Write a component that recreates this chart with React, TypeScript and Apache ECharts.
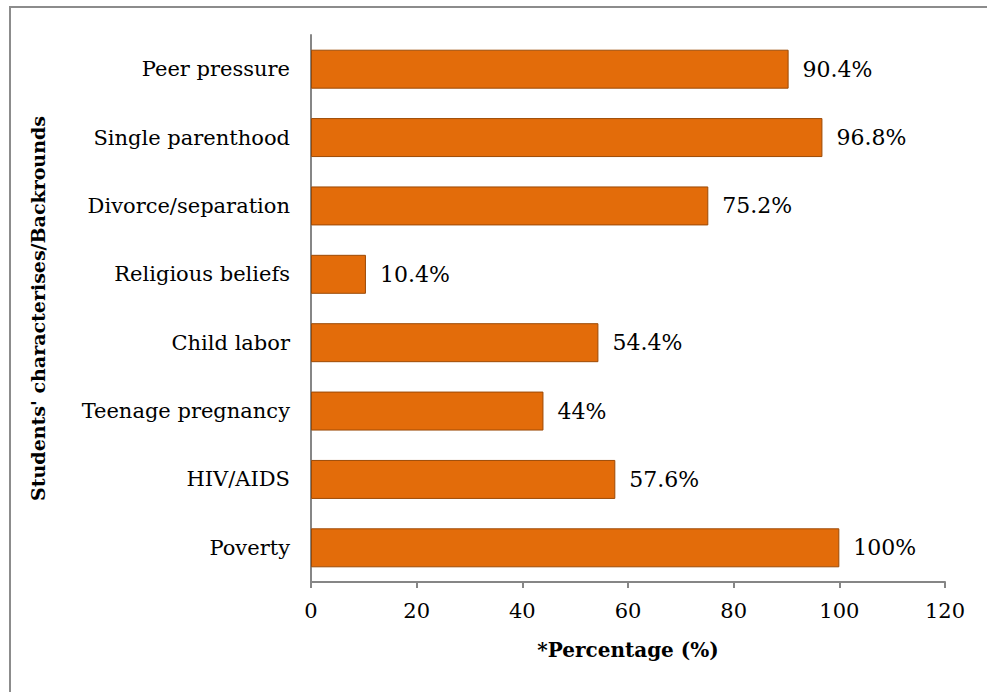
import React, { useEffect, useRef } from "react";
import * as echarts from "echarts";

const categories = [
  "Peer pressure",
  "Single parenthood",
  "Divorce/separation",
  "Religious beliefs",
  "Child labor",
  "Teenage pregnancy",
  "HIV/AIDS",
  "Poverty",
];
const values = [90.4, 96.8, 75.2, 10.4, 54.4, 44, 57.6, 100];
const xTicks = [0, 20, 40, 60, 80, 100, 120];

const SERIF = "'DejaVu Serif', 'Liberation Serif', serif";

export default function App() {
  const ref = useRef<HTMLDivElement>(null);
  useEffect(() => {
    document.body.style.margin = "0";
    const chart = echarts.init(ref.current!, null, { renderer: "svg" });
    chart.setOption({
      animation: false,
      backgroundColor: "#ffffff",
      graphic: [
        {
          type: "rect",
          shape: { x: 10, y: 7, width: 1100, height: 800 },
          style: { fill: "none", stroke: "#8c8c8c", lineWidth: 2 },
          z: 0,
        },
      ],
      grid: { left: 311, top: 35, right: 42, bottom: 110, containLabel: false },
      xAxis: {
        type: "value",
        min: xTicks[0],
        max: xTicks[xTicks.length - 1],
        interval: 20,
        name: "*Percentage (%)",
        nameLocation: "middle",
        nameGap: 58,
        nameTextStyle: { fontFamily: SERIF, fontWeight: "bold", fontSize: 20, color: "#000" },
        axisLine: { show: true, lineStyle: { color: "#868686", width: 2 } },
        axisTick: { show: true, length: 6, lineStyle: { color: "#868686", width: 2 } },
        axisLabel: { fontFamily: SERIF, fontSize: 21, color: "#000", margin: 18 },
        splitLine: { show: false },
      },
      yAxis: {
        type: "category",
        data: categories,
        inverse: true,
        name: "Students' characterises/Backrounds",
        nameLocation: "middle",
        nameGap: 264,
        nameRotate: 90,
        nameTextStyle: { fontFamily: SERIF, fontWeight: "bold", fontSize: 19, color: "#000" },
        axisLine: { show: true, lineStyle: { color: "#868686", width: 2 } },
        axisTick: { show: false },
        axisLabel: { fontFamily: SERIF, fontSize: 21, color: "#000", margin: 21 },
      },
      series: [
        {
          type: "bar",
          data: values,
          barCategoryGap: "43%",
          itemStyle: { color: "#E36C0A", borderColor: "#9C4A06", borderWidth: 1 },
          label: {
            show: true,
            position: "right",
            distance: 14,
            formatter: (p: any) => `${p.value}%`,
            fontFamily: SERIF,
            fontSize: 22,
            color: "#000",
          },
        },
      ],
    });
    return () => chart.dispose();
  }, []);
  return (
    <div
      ref={ref}
      style={{ position: "absolute", left: 0, top: 0, width: 987, height: 692 }}
    />
  );
}
